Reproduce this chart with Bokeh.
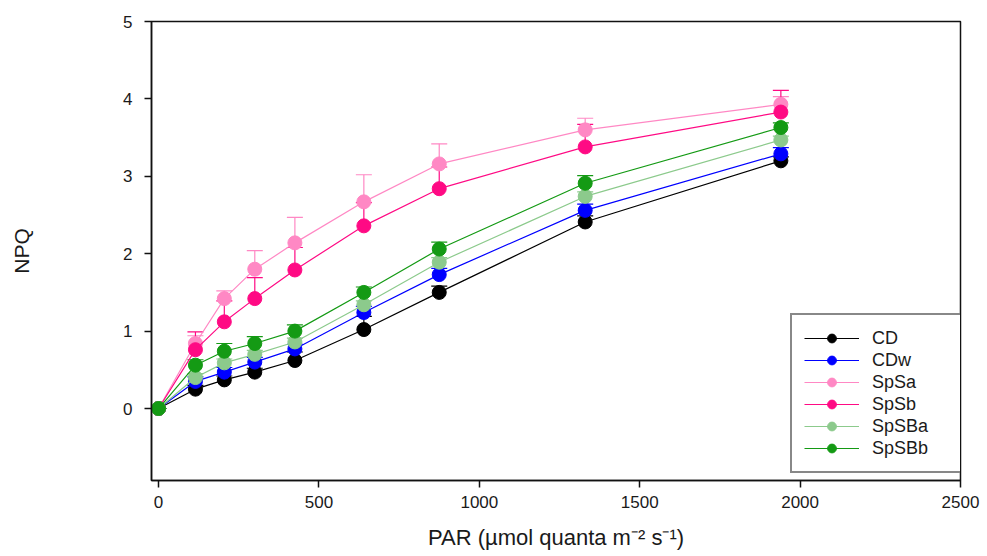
from bokeh.plotting import figure
from bokeh.models import (Range1d, FixedTicker, Legend, LegendItem, Whisker, TeeHead,
                          ColumnDataSource)
from bokeh.embed import file_html
from bokeh.resources import INLINE

# ---- data ----
par = [0, 115, 205, 300, 425, 640, 875, 1330, 1940]

series_names = ["CD", "CDw", "SpSa", "SpSb", "SpSBa", "SpSBb"]
CD    = [0, 0.25, 0.37, 0.47, 0.62, 1.02, 1.50, 2.41, 3.20]
CDw   = [0, 0.35, 0.47, 0.60, 0.77, 1.24, 1.73, 2.56, 3.29]
SpSa  = [0, 0.84, 1.42, 1.80, 2.14, 2.67, 3.16, 3.60, 3.93]
SpSb  = [0, 0.76, 1.12, 1.42, 1.79, 2.36, 2.84, 3.38, 3.83]
SpSBa = [0, 0.40, 0.59, 0.70, 0.86, 1.34, 1.89, 2.74, 3.47]
SpSBb = [0, 0.56, 0.74, 0.84, 1.00, 1.50, 2.06, 2.91, 3.63]

CD_err    = [0, 0.05, 0.05, 0.05, 0.11, 0.17, 0.08, 0.08, 0.05]
CDw_err   = [0, 0.06, 0.06, 0.06, 0.06, 0.08, 0.08, 0.08, 0.08]
SpSa_err  = [0, 0.10, 0.10, 0.24, 0.33, 0.35, 0.26, 0.15, 0.10]
SpSb_err  = [0, 0.23, 0.27, 0.27, 0.29, 0.30, 0.28, 0.29, 0.28]
SpSBa_err = [0, 0.05, 0.05, 0.05, 0.05, 0.05, 0.06, 0.06, 0.05]
SpSBb_err = [0, 0.07, 0.10, 0.09, 0.08, 0.07, 0.09, 0.10, 0.06]

colors = ["#000000", "#0000ff", "#ff88c4", "#ff0a84", "#8cca8c", "#149a14"]

x_ticks = [0, 500, 1000, 1500, 2000, 2500]
y_ticks = [0, 1, 2, 3, 4, 5]

values = [CD, CDw, SpSa, SpSb, SpSBa, SpSBb]
errors = [CD_err, CDw_err, SpSa_err, SpSb_err, SpSBa_err, SpSBb_err]

FONT = "Liberation Sans"
TXT = "#1a1a1a"

p = figure(width=987, height=556, output_backend="svg", toolbar_location=None,
           x_range=Range1d(-22, 2500), y_range=Range1d(-0.93, 5),
           min_border_left=151, min_border_right=27, min_border_top=21, min_border_bottom=76)
p.background_fill_color = "white"
p.border_fill_color = "white"
p.outline_line_color = "#111111"
p.outline_line_width = 1.5
p.xgrid.visible = False
p.ygrid.visible = False

for ax, ticks in ((p.xaxis[0], x_ticks), (p.yaxis[0], y_ticks)):
    ax.ticker = FixedTicker(ticks=ticks)
    ax.minor_tick_line_color = None
    ax.major_tick_in = 0
    ax.major_tick_out = 7
    ax.major_tick_line_width = 1.5
    ax.major_tick_line_color = "#111111"
    ax.axis_line_width = 1.5
    ax.axis_line_color = "#111111"
    ax.major_label_text_font = FONT
    ax.major_label_text_font_size = "17px"
    ax.major_label_text_color = TXT
    ax.axis_label_text_font = FONT
    ax.axis_label_text_font_style = "normal"
    ax.axis_label_text_color = TXT

p.xaxis.major_label_standoff = 8
p.yaxis.major_label_standoff = 12
p.xaxis.axis_label = "PAR (µmol quanta m⁻² s⁻¹)"
p.xaxis.axis_label_text_font_size = "22px"
p.xaxis.axis_label_standoff = 14
p.yaxis.axis_label = "NPQ"
p.yaxis.axis_label_text_font_size = "21px"
p.yaxis.axis_label_standoff = 87

items = []
for name, vals, errs, col in zip(series_names, values, errors, colors):
    upper = [v + e for v, e in zip(vals, errs)]
    src = ColumnDataSource(dict(x=par, y=vals, upper=upper))
    ln = p.line("x", "y", source=src, line_color=col, line_width=1.2)
    wk = Whisker(base="x", lower="y", upper="upper", source=src, dimension="height",
                 line_color=col, line_width=1.2, lower_head=None,
                 upper_head=TeeHead(size=16, line_color=col, line_width=1.2))
    p.add_layout(wk)
    sc = p.scatter("x", "y", source=src, marker="circle", size=14,
                   fill_color=col, line_color=col)
    items.append(LegendItem(label=name, renderers=[ln, sc]))

legend = Legend(items=items, location=(639, 7))
legend.border_line_color = "#111111"
legend.border_line_width = 2
legend.background_fill_color = "white"
legend.background_fill_alpha = 1
legend.padding = 12
legend.margin = 0
legend.spacing = 0
legend.glyph_width = 55
legend.glyph_height = 22
legend.label_height = 22
legend.label_standoff = 13
legend.label_width = 76
legend.label_text_font = FONT
legend.label_text_font_size = "18px"
legend.label_text_color = TXT
p.add_layout(legend)

open("out.html", "w").write(file_html(p, INLINE))
